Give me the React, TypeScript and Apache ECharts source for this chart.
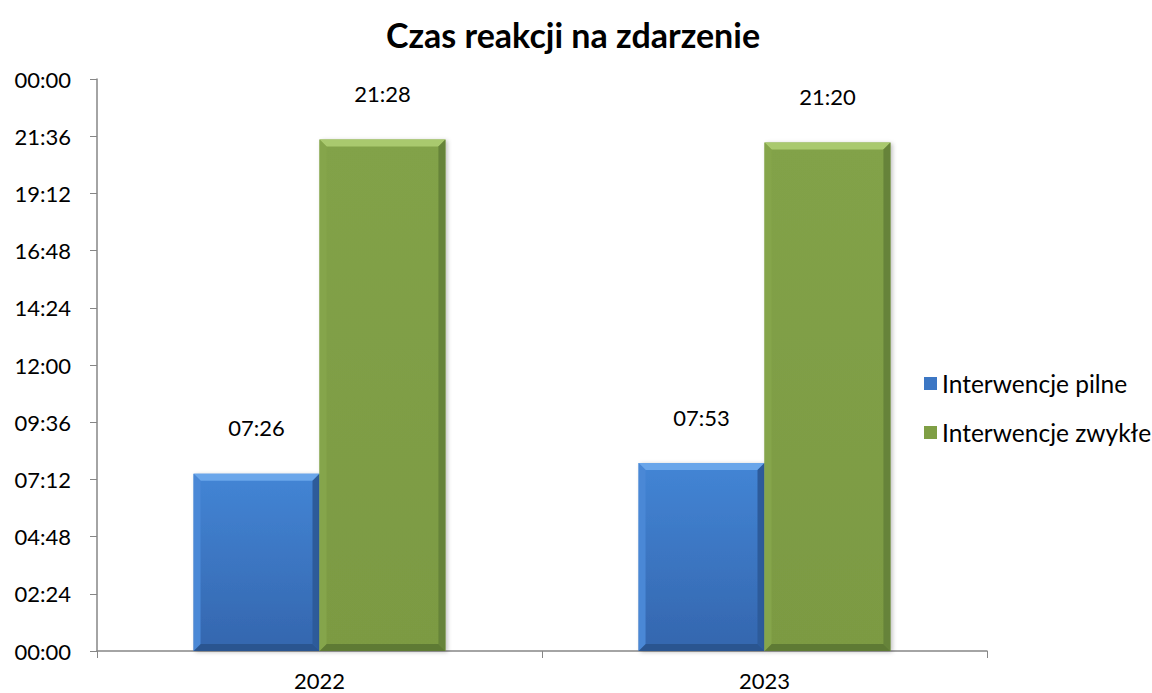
import React, { useEffect, useRef } from "react";
import * as echarts from "echarts";

const TITLE = "Czas reakcji na zdarzenie";
const YEARS = ["2022", "2023"];
const SERIES_NAMES = ["Interwencje pilne", "Interwencje zwykłe"];
// minutes
const PILNE = [446, 473]; // 07:26, 07:53
const ZWYKLE = [1288, 1280]; // 21:28, 21:20
const Y_MAX = 1440;
const Y_STEP = 144;

const FONT = "Lato";

const fmt = (m: number) => {
  const h = Math.floor(m / 60) % 24;
  const mm = Math.round(m % 60);
  return String(h).padStart(2, "0") + ":" + String(mm).padStart(2, "0");
};

const PALETTES = [
  { face: ["#4385d5", "#3466ae"], top: "#6aa6ea", left: "#4a88d6", right: "#2d5b9a", bottom: "#2a5590", legend: "#3c77c4" },
  { face: ["#82a248", "#7c9a43"], top: "#a9c96e", left: "#85a54b", right: "#66833a", bottom: "#5e7a34", legend: "#7f9f45" },
];

const BAR_RATIO = 0.283;
const BEVEL = 7;

function makeRender(sIdx: number) {
  const p = PALETTES[sIdx];
  return (params: any, api: any) => {
    const cat = api.value(0);
    const val = api.value(1);
    const topPt = api.coord([cat, val]);
    const basePt = api.coord([cat, 0]);
    const band = api.size([1, 0])[0];
    const w = band * BAR_RATIO;
    const cx = basePt[0];
    const x0 = sIdx === 0 ? cx - w : cx;
    const x1 = x0 + w;
    const y0 = topPt[1];
    const y1 = basePt[1];
    const b = BEVEL;
    return {
      type: "group",
      children: [
        {
          type: "rect",
          shape: { x: x0, y: y0, width: w, height: y1 - y0 },
          style: {
            fill: new echarts.graphic.LinearGradient(0, 0, 0, 1, [
              { offset: 0, color: p.face[0] },
              { offset: 1, color: p.face[1] },
            ]),
            shadowBlur: 4,
            shadowOffsetX: 2,
            shadowOffsetY: 1,
            shadowColor: "rgba(0,0,0,0.25)",
          },
        },
        { type: "polygon", shape: { points: [[x0, y0], [x1, y0], [x1 - b, y0 + b], [x0 + b, y0 + b]] }, style: { fill: p.top } },
        { type: "polygon", shape: { points: [[x0, y1], [x1, y1], [x1 - b, y1 - b], [x0 + b, y1 - b]] }, style: { fill: p.bottom } },
        { type: "polygon", shape: { points: [[x0, y0], [x0 + b, y0 + b], [x0 + b, y1 - b], [x0, y1]] }, style: { fill: p.left } },
        { type: "polygon", shape: { points: [[x1, y0], [x1 - b, y0 + b], [x1 - b, y1 - b], [x1, y1]] }, style: { fill: p.right } },
        {
          type: "text",
          style: {
            text: fmt(val),
            x: (x0 + x1) / 2,
            y: y0 - 46,
            fill: "#000",
            fontSize: 22,
            fontFamily: FONT,
            align: "center",
            verticalAlign: "middle",
          },
        },
      ],
    };
  };
}

export default function App() {
  const ref = useRef<HTMLDivElement>(null);
  useEffect(() => {
    if (!ref.current) return;
    const chart = echarts.init(ref.current, null, { renderer: "svg" });
    const seriesData = [PILNE, ZWYKLE];
    chart.setOption({
      animation: false,
      backgroundColor: "#fff",
      title: {
        text: TITLE,
        left: 568,
        textAlign: "center",
        top: 12,
        textStyle: { fontFamily: FONT, fontSize: 34, fontWeight: "bold", color: "#000" },
      },
      legend: {
        orient: "vertical",
        left: 919,
        top: 366,
        itemWidth: 13,
        itemHeight: 13,
        itemGap: 24,
        icon: "rect",
        textStyle: { fontFamily: FONT, fontSize: 24.5, color: "#000" },
        data: SERIES_NAMES.map((n, i) => ({ name: n, itemStyle: { color: PALETTES[i].legend } })),
      },
      grid: { left: 97, right: 165, top: 79, bottom: 42, containLabel: false },
      xAxis: {
        type: "category",
        data: YEARS,
        axisLine: { lineStyle: { color: "#868686", width: 1.5 } },
        axisTick: { show: true, length: 7, lineStyle: { color: "#868686" } },
        axisLabel: { fontFamily: FONT, fontSize: 22, color: "#000", margin: 18 },
      },
      yAxis: {
        type: "value",
        min: 0,
        max: Y_MAX,
        interval: Y_STEP,
        axisLine: { show: true, lineStyle: { color: "#868686", width: 1.5 } },
        axisTick: { show: true, length: 7, lineStyle: { color: "#868686" } },
        splitLine: { show: false },
        axisLabel: { fontFamily: FONT, fontSize: 22, color: "#000", margin: 26, formatter: (v: number) => fmt(v) },
      },
      series: SERIES_NAMES.map((name, i) => ({
        type: "custom",
        name,
        itemStyle: { color: PALETTES[i].legend },
        encode: { x: 0, y: 1 },
        data: seriesData[i].map((v, j) => [j, v]),
        renderItem: makeRender(i),
      })),
    });
    return () => chart.dispose();
  }, []);
  return <div ref={ref} style={{ position: "fixed", left: 0, top: 0, width: 1152, height: 693 }} />;
}
